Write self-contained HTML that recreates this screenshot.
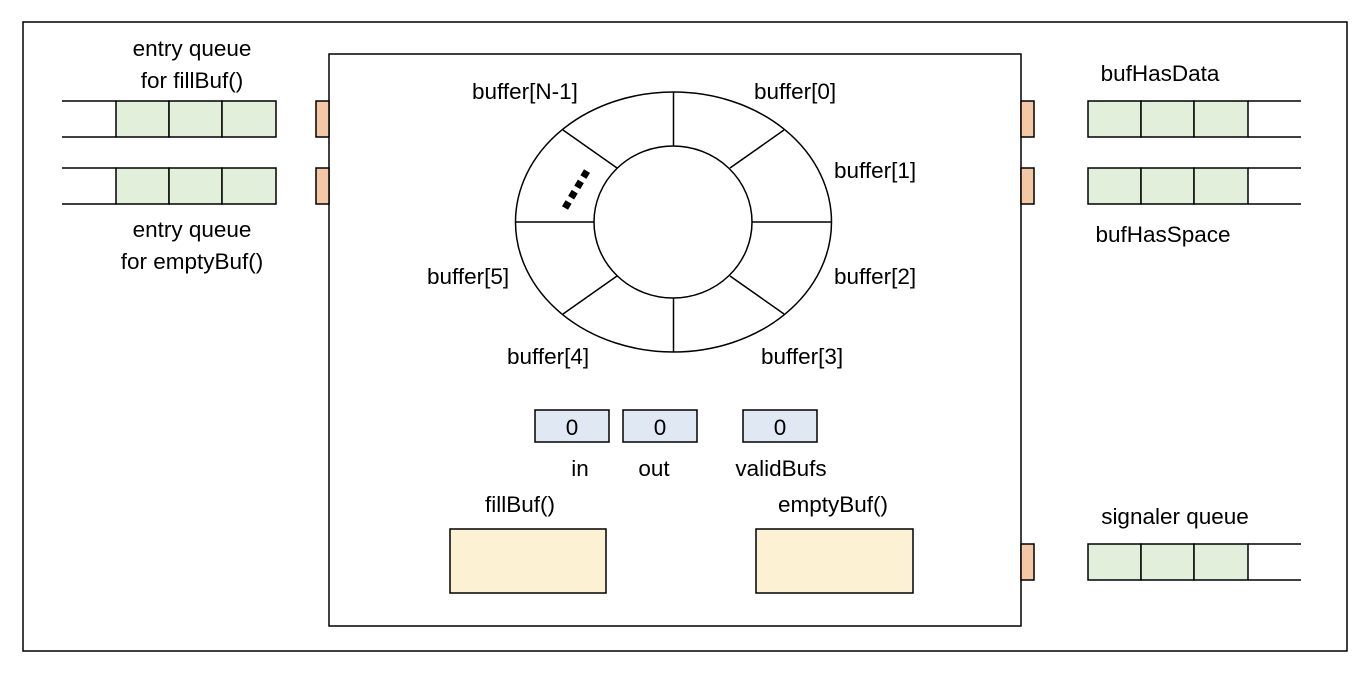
<!DOCTYPE html>
<html><head><meta charset="utf-8"><style>
html,body{margin:0;padding:0;background:#fff}
svg{display:block}
text{font-family:"Liberation Sans",sans-serif;font-size:22.5px;fill:#000}
</style></head><body>
<svg width="1370" height="674" viewBox="0 0 1370 674">
<rect x="23" y="22" width="1324" height="629" fill="none" stroke="#000" stroke-width="1.5"/>
<rect x="329" y="54" width="692" height="572" fill="#fff" stroke="#000" stroke-width="1.5"/>

<g stroke="#000" stroke-width="1.5" fill="#f4c7a6">
<rect x="316" y="101" width="13" height="36"/><rect x="316" y="168" width="13" height="36"/>
<rect x="1021" y="101" width="13" height="36"/><rect x="1021" y="168" width="13" height="36"/><rect x="1021" y="544" width="13" height="36"/>
</g>

<g stroke="#000" stroke-width="1.5">
<line x1="62" y1="101" x2="116" y2="101"/><line x1="62" y1="137" x2="116" y2="137"/>
<rect x="116" y="101" width="53" height="36" fill="#e2efda"/><rect x="169" y="101" width="53" height="36" fill="#e2efda"/><rect x="222" y="101" width="54" height="36" fill="#e2efda"/>
</g>
<g stroke="#000" stroke-width="1.5">
<line x1="62" y1="168" x2="116" y2="168"/><line x1="62" y1="204" x2="116" y2="204"/>
<rect x="116" y="168" width="53" height="36" fill="#e2efda"/><rect x="169" y="168" width="53" height="36" fill="#e2efda"/><rect x="222" y="168" width="54" height="36" fill="#e2efda"/>
</g>
<g stroke="#000" stroke-width="1.5">
<rect x="1088" y="101" width="53" height="36" fill="#e2efda"/><rect x="1141" y="101" width="53" height="36" fill="#e2efda"/><rect x="1194" y="101" width="54" height="36" fill="#e2efda"/>
<line x1="1248" y1="101" x2="1301" y2="101"/><line x1="1248" y1="137" x2="1301" y2="137"/>
</g>
<g stroke="#000" stroke-width="1.5">
<rect x="1088" y="168" width="53" height="36" fill="#e2efda"/><rect x="1141" y="168" width="53" height="36" fill="#e2efda"/><rect x="1194" y="168" width="54" height="36" fill="#e2efda"/>
<line x1="1248" y1="168" x2="1301" y2="168"/><line x1="1248" y1="204" x2="1301" y2="204"/>
</g>
<g stroke="#000" stroke-width="1.5">
<rect x="1088" y="544" width="53" height="36" fill="#e2efda"/><rect x="1141" y="544" width="53" height="36" fill="#e2efda"/><rect x="1194" y="544" width="54" height="36" fill="#e2efda"/>
<line x1="1248" y1="544" x2="1301" y2="544"/><line x1="1248" y1="580" x2="1301" y2="580"/>
</g>

<text x="192" y="56" text-anchor="middle">entry queue</text>
<text x="192" y="88" text-anchor="middle">for fillBuf()</text>
<text x="192" y="237" text-anchor="middle">entry queue</text>
<text x="192" y="269" text-anchor="middle">for emptyBuf()</text>
<text x="1160" y="81" text-anchor="middle">bufHasData</text>
<text x="1163" y="242" text-anchor="middle">bufHasSpace</text>
<text x="1175" y="524" text-anchor="middle">signaler queue</text>

<g stroke="#000" stroke-width="1.5" fill="none">
<ellipse cx="673.5" cy="222" rx="158" ry="130" fill="#fff"/>
<ellipse cx="673" cy="222" rx="79" ry="76"/>
<line x1="673.5" y1="92" x2="673.5" y2="146"/><line x1="673.5" y1="298" x2="673.5" y2="352"/>
<line x1="515.5" y1="222" x2="594" y2="222"/><line x1="752" y1="222" x2="831.5" y2="222"/>
<line x1="563" y1="130" x2="617" y2="168"/><line x1="784" y1="130" x2="730" y2="168"/>
<line x1="563" y1="314" x2="617" y2="276"/><line x1="784" y1="314" x2="730" y2="276"/>
<line x1="565" y1="208" x2="587" y2="171" stroke-width="7" stroke-dasharray="7 5"/>
</g>
<g>
<text x="472" y="99">buffer[N-1]</text>
<text x="754" y="99">buffer[0]</text>
<text x="834" y="178">buffer[1]</text>
<text x="834" y="284">buffer[2]</text>
<text x="761" y="364">buffer[3]</text>
<text x="507" y="364">buffer[4]</text>
<text x="427" y="284">buffer[5]</text>
</g>

<g stroke="#000" stroke-width="1.5" fill="#dfe8f3">
<rect x="535" y="410" width="74" height="32"/><rect x="623" y="410" width="74" height="32"/><rect x="743" y="410" width="74" height="32"/>
</g>
<text x="572" y="435" text-anchor="middle">0</text>
<text x="660" y="435" text-anchor="middle">0</text>
<text x="780" y="435" text-anchor="middle">0</text>
<text x="580" y="476" text-anchor="middle">in</text>
<text x="654" y="476" text-anchor="middle">out</text>
<text x="781" y="476" text-anchor="middle">validBufs</text>

<text x="520" y="512" text-anchor="middle">fillBuf()</text>
<text x="833" y="512" text-anchor="middle">emptyBuf()</text>
<rect x="450" y="529" width="156" height="64" fill="#fcf2d3" stroke="#000" stroke-width="1.5"/>
<rect x="756" y="529" width="157" height="64" fill="#fcf2d3" stroke="#000" stroke-width="1.5"/>
</svg>
</body></html>
